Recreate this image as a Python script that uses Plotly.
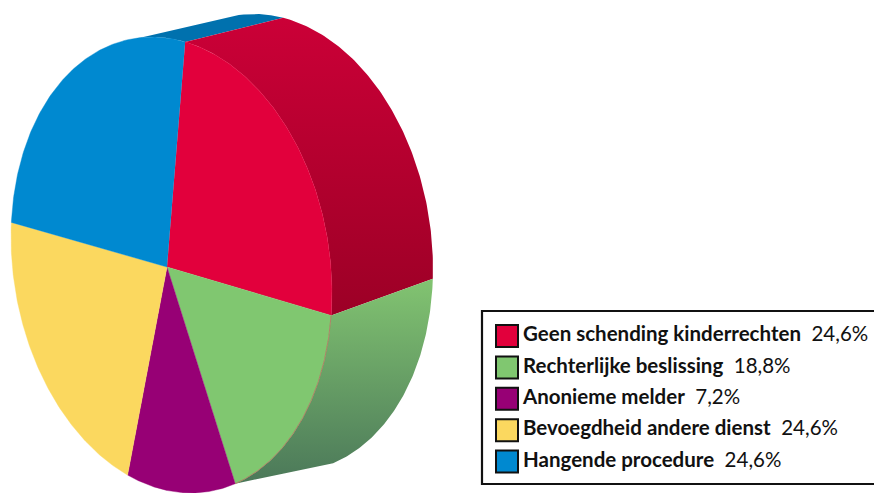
import numpy as np
import plotly.graph_objects as go

categories = ["Geen schending kinderrechten", "Rechterlijke beslissing", "Anonieme melder",
              "Bevoegdheid andere dienst", "Hangende procedure"]
# percentages printed in the legend
shares = [24.6, 18.8, 7.2, 24.6, 24.6]
# the drawn slices do not follow the printed shares, these are read off the picture (degrees)
slice_sweeps = [90.9, 60.8, 39.3, 77.9, 91.1]
face_colors = ["#e2003c", "#80c770", "#970075", "#fbd85f", "#0089d0"]

# pie geometry, in page pixels
START_ANGLE = 8.1
APEX = (167, 267)
FRONT = dict(cx=171.5, cy=265, a=160.2, b=9, c=227.5, d=15)
BACK = dict(cx=272, cy=243, a=160.6, b=11, c=228.8, d=10)


def ellipse(e, t0, t1, n=120):
    t = np.radians(np.linspace(t0, t1, n))
    x = e["cx"] + e["a"] * np.sin(t) - e["b"] * np.cos(t)
    y = e["cy"] - e["c"] * np.cos(t) + e["d"] * np.sin(t)
    return x, y


def rim(front_t, back_t, **style):
    fx, fy = ellipse(FRONT, *front_t)
    bx, by = ellipse(BACK, back_t[1], back_t[0])
    return go.Scatter(x=np.r_[fx, bx], y=np.r_[fy, by], mode="lines", fill="toself",
                      line=dict(width=0), hoverinfo="skip", **style)


edges = START_ANGLE + np.r_[0, np.cumsum(slice_sweeps)]

fig = go.Figure()

# side of the pie: blue, red and green parts are the visible ones
fig.add_trace(rim((352, edges[0] + 360), (352, 367.9), fillcolor="#0071ae"))
# axis is flipped, so the gradients run bottom to top here
fig.add_trace(rim((edges[0], edges[1]), (7.9, 96.5),
                  fillgradient=dict(type="vertical",
                                    colorscale=[[0, "#9c0026"], [1, "#cb0037"]])))
fig.add_trace(rim((edges[1], edges[2]), (96.5, 161.6),
                  fillgradient=dict(type="vertical",
                                    colorscale=[[0, "#4b7859"], [1, "#82c471"]])))

# front face
for i, col in enumerate(face_colors):
    x, y = ellipse(FRONT, edges[i], edges[i + 1])
    fig.add_trace(go.Scatter(x=np.r_[APEX[0], x], y=np.r_[APEX[1], y], mode="lines",
                             fill="toself", fillcolor=col, line=dict(width=0.4, color=col),
                             hoverinfo="skip"))

# thin line left on the edge of the green slice
x, y = ellipse(FRONT, edges[1], edges[2])
fig.add_trace(go.Scatter(x=x, y=y, mode="lines", line=dict(width=0.8, color="#b5705f"),
                         hoverinfo="skip"))

# legend
rows_y = 336 + 31.4 * np.arange(len(categories))
labels = [f"<b>{c}</b>\u00a0\u00a0{str(s).replace('.', ',')}%" for c, s in zip(categories, shares)]
fig.add_shape(type="rect", x0=482, y0=311, x1=890, y1=484, layer="below",
              line=dict(color="#111111", width=2.2), fillcolor="white")
fig.add_trace(go.Scatter(x=[507] * len(categories), y=rows_y, mode="markers",
                         marker=dict(symbol="square", size=22, color=face_colors,
                                     line=dict(color="#111111", width=2)),
                         hoverinfo="skip"))
fig.add_trace(go.Scatter(x=[523] * len(categories), y=rows_y, mode="text", text=labels,
                         textposition="middle right",
                         textfont=dict(family="Lato", size=20.5, color="#111111"),
                         hoverinfo="skip"))

fig.update_layout(
    width=874, height=493,
    margin=dict(l=0, r=0, t=0, b=0),
    showlegend=False,
    paper_bgcolor="white", plot_bgcolor="white",
    xaxis=dict(range=[0, 874], visible=False, fixedrange=True),
    yaxis=dict(range=[493, 0], visible=False, fixedrange=True),
)

fig.write_html("out.html", config=dict(displayModeBar=False),
               post_script="document.body.style.margin='0';document.documentElement.style.overflow='hidden';")
